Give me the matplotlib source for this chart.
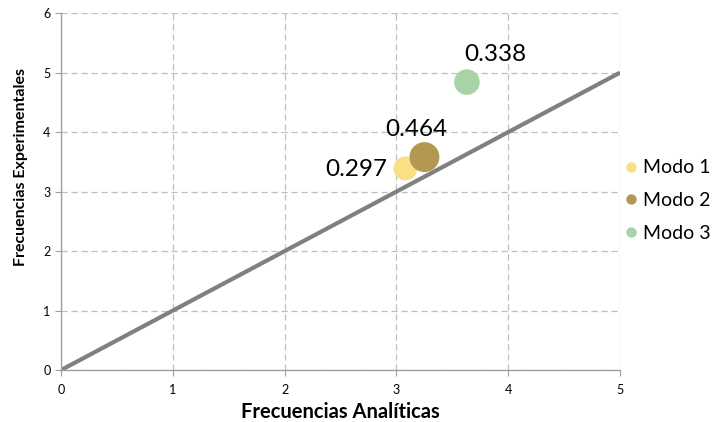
import matplotlib.pyplot as plt
import matplotlib.patheffects as pe
from matplotlib.lines import Line2D

plt.rcParams['font.family'] = ['Lato', 'DejaVu Sans']

# analytic vs experimental frequencies, bubble size = value shown next to it
modes = ["Modo 1", "Modo 2", "Modo 3"]
analytic = [3.08, 3.25, 3.63]
experimental = [3.39, 3.58, 4.84]
bubble_vals = [0.297, 0.464, 0.338]
colors = ["#FADF85", "#B39852", "#A8D3A6"]

ref_x = [0, 5]
ref_y = [0, 5]

fig = plt.figure(figsize=(7.15, 4.22), dpi=100)
ax = fig.add_axes([0.0853, 0.123, 0.782, 0.846])

ax.plot(ref_x, ref_y, color="#808080", lw=3, zorder=2, solid_capstyle="butt")

for i in range(len(modes)):
    ax.scatter(analytic[i], experimental[i], s=bubble_vals[i] * 1000,
               color=colors[i], edgecolors="none", zorder=3,
               path_effects=[pe.SimpleLineShadow(offset=(1.2, -1.5), shadow_color="#000000", alpha=0.25),
                             pe.Normal()])

# value labels
ax.text(analytic[0] - 0.16, experimental[0] - 0.02, "0.297", ha="right", va="center", fontsize=17.5, zorder=4)
ax.text(analytic[1] - 0.07, experimental[1] + 0.46, "0.464", ha="center", va="center", fontsize=17.5, zorder=4)
ax.text(analytic[2] + 0.25, experimental[2] + 0.47, "0.338", ha="center", va="center", fontsize=17.5, zorder=4)

ax.set_xlim(0, 5)
ax.set_ylim(0, 6)
ax.set_xticks(range(0, 6))
ax.set_yticks(range(0, 7))
ax.grid(True, color="#BFBFBF", linestyle=(0, (5, 3)), lw=0.9)
ax.set_axisbelow(True)
for side in ["top", "right"]:
    ax.spines[side].set_visible(False)
for side in ["left", "bottom"]:
    ax.spines[side].set_color("#A0A0A0")
    ax.spines[side].set_linewidth(1.0)
ax.tick_params(axis="both", colors="#A0A0A0", labelcolor="#000000", labelsize=9, length=4)
ax.tick_params(axis="x", pad=6)

ax.set_xlabel("Frecuencias Analíticas", fontsize=14.5, fontweight="bold", va="center")
ax.set_ylabel("Frecuencias Experimentales", fontsize=11.5, fontweight="bold", va="center")
ax.xaxis.set_label_coords(0.5, -0.118)
ax.yaxis.set_label_coords(-0.071, 0.569)

handles = [Line2D([], [], marker="o", linestyle="none", markersize=7.5,
                  markerfacecolor=c, markeredgecolor="none") for c in colors]
fig.legend(handles, modes, loc="center left", bbox_to_anchor=(0.872, 0.525),
           frameon=False, fontsize=14, handletextpad=0.2, labelspacing=0.8,
           handlelength=0.8, borderaxespad=0, borderpad=0)

fig.savefig("out.png", dpi=100)
